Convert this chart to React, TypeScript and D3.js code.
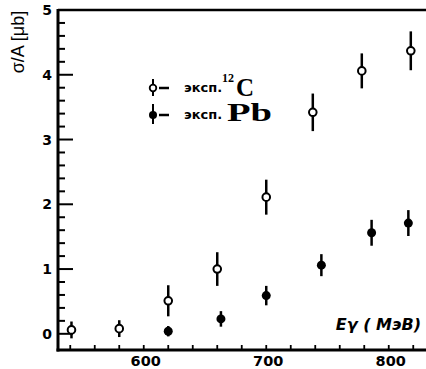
import React from "react";
import * as d3 from "d3";

const energyC = [541, 580, 620, 660, 700, 738, 778, 818];
const sigmaC = [0.06, 0.08, 0.51, 1.0, 2.11, 3.42, 4.06, 4.37];
const errC = [0.13, 0.13, 0.24, 0.26, 0.27, 0.29, 0.27, 0.3];

const energyPb = [620, 663, 700, 745, 786, 816];
const sigmaPb = [0.04, 0.23, 0.59, 1.06, 1.56, 1.71];
const errPb = [0.08, 0.12, 0.15, 0.17, 0.2, 0.2];

const xTickLabels = [600, 700, 800];
const yTickLabels = [0, 1, 2, 3, 4, 5];

const W = 426;
const H = 369;

export default function App() {
  const x = d3.scaleLinear().domain([530, 830]).range([58, 425.5]);
  const y = d3.scaleLinear().domain([-0.25, 5]).range([350, 10]);
  const xMinor = d3.range(540, 830, 20);
  const yMinor = d3.range(0, 5.001, 0.2).map((v) => Math.round(v * 10) / 10);
  const sans = "'Liberation Sans', Arial, sans-serif";
  const bold = "'DejaVu Sans', Verdana, sans-serif";
  const serif = "'Liberation Serif', 'Times New Roman', serif";

  const C = energyC.map((e, i) => ({ e, v: sigmaC[i], err: errC[i] }));
  const P = energyPb.map((e, i) => ({ e, v: sigmaPb[i], err: errPb[i] }));

  return (
    <svg
      width={W}
      height={H}
      style={{ position: "absolute", left: 0, top: 0, background: "#fff" }}
    >
      <rect x={0} y={0} width={W} height={H} fill="#fff" />
      {/* frame */}
      <line x1={58} y1={10} x2={W} y2={10} stroke="#000" strokeWidth={2.5} />
      <line x1={58} y1={9} x2={58} y2={351.5} stroke="#000" strokeWidth={3} />
      <line x1={56.5} y1={350} x2={W} y2={350} stroke="#000" strokeWidth={3} />
      {/* y ticks */}
      {yMinor.map((v) => {
        const major = Math.abs(v - Math.round(v)) < 1e-6;
        if (v >= 5) return null;
        return (
          <line
            key={"yt" + v}
            x1={58}
            x2={58 + (major ? 15 : 7)}
            y1={y(v)}
            y2={y(v)}
            stroke="#000"
            strokeWidth={2}
          />
        );
      })}
      {yTickLabels.map((v) => (
        <text
          key={"yl" + v}
          x={47}
          y={y(v)}
          dy="0.36em"
          textAnchor="middle"
          fontFamily={bold}
          fontWeight="bold"
          fontSize={14}
        >
          {v}
        </text>
      ))}
      {/* x ticks */}
      {xMinor.map((v) => (
        <line
          key={"xt" + v}
          x1={x(v)}
          x2={x(v)}
          y1={350}
          y2={345}
          stroke="#000"
          strokeWidth={1.8}
        />
      ))}
      {xTickLabels.map((v) => (
        <text
          key={"xl" + v}
          x={x(v) + 2}
          y={366}
          textAnchor="middle"
          fontFamily={bold}
          fontWeight="bold"
          fontSize={14.5}
        >
          {v}
        </text>
      ))}
      {/* axis titles */}
      <text
        transform="translate(24,42) rotate(-90)"
        textAnchor="middle"
        fontFamily={sans}
        fontSize={18}
      >
        σ/A [μb]
      </text>
      <text
        x={421}
        y={330}
        textAnchor="end"
        fontFamily={bold}
        fontWeight="bold"
        fontStyle="italic"
        fontSize={16}
      >
        Eγ ( MэB)
      </text>
      {/* error bars and points */}
      {C.map((d, i) => (
        <g key={"c" + i}>
          <line
            x1={x(d.e)}
            x2={x(d.e)}
            y1={y(d.v + d.err)}
            y2={y(d.v - d.err)}
            stroke="#000"
            strokeWidth={2.5}
          />
          <circle cx={x(d.e)} cy={y(d.v)} r={3.8} fill="#fff" stroke="#000" strokeWidth={2} />
        </g>
      ))}
      {P.map((d, i) => (
        <g key={"p" + i}>
          <line
            x1={x(d.e)}
            x2={x(d.e)}
            y1={y(d.v + d.err)}
            y2={y(d.v - d.err)}
            stroke="#000"
            strokeWidth={2.5}
          />
          <circle cx={x(d.e)} cy={y(d.v)} r={4.5} fill="#000" />
        </g>
      ))}
      {/* legend */}
      <g>
        <line x1={153} x2={153} y1={79} y2={96} stroke="#000" strokeWidth={2} />
        <circle cx={153} cy={88} r={3.3} fill="#fff" stroke="#000" strokeWidth={1.8} />
        <line x1={159} x2={169} y1={88} y2={88} stroke="#000" strokeWidth={2.5} />
        <text x={184} y={92} fontFamily={bold} fontWeight="bold" fontSize={13}>
          эксп.
        </text>
        <text x={222} y={82} fontFamily={serif} fontWeight="bold" fontSize={12}>
          12
        </text>
        <text x={236} y={96} fontFamily={serif} fontWeight="bold" fontSize={25}>
          C
        </text>
        <line x1={153} x2={153} y1={104} y2={124} stroke="#000" strokeWidth={2} />
        <circle cx={153} cy={115} r={4} fill="#000" />
        <line x1={159} x2={169} y1={115} y2={115} stroke="#000" strokeWidth={2.5} />
        <text x={184} y={119} fontFamily={bold} fontWeight="bold" fontSize={13}>
          эксп.
        </text>
        <text
          x={227}
          y={121}
          fontFamily={serif}
          fontWeight="bold"
          fontSize={25}
          textLength={45}
          lengthAdjust="spacingAndGlyphs"
        >
          Pb
        </text>
      </g>
    </svg>
  );
}
